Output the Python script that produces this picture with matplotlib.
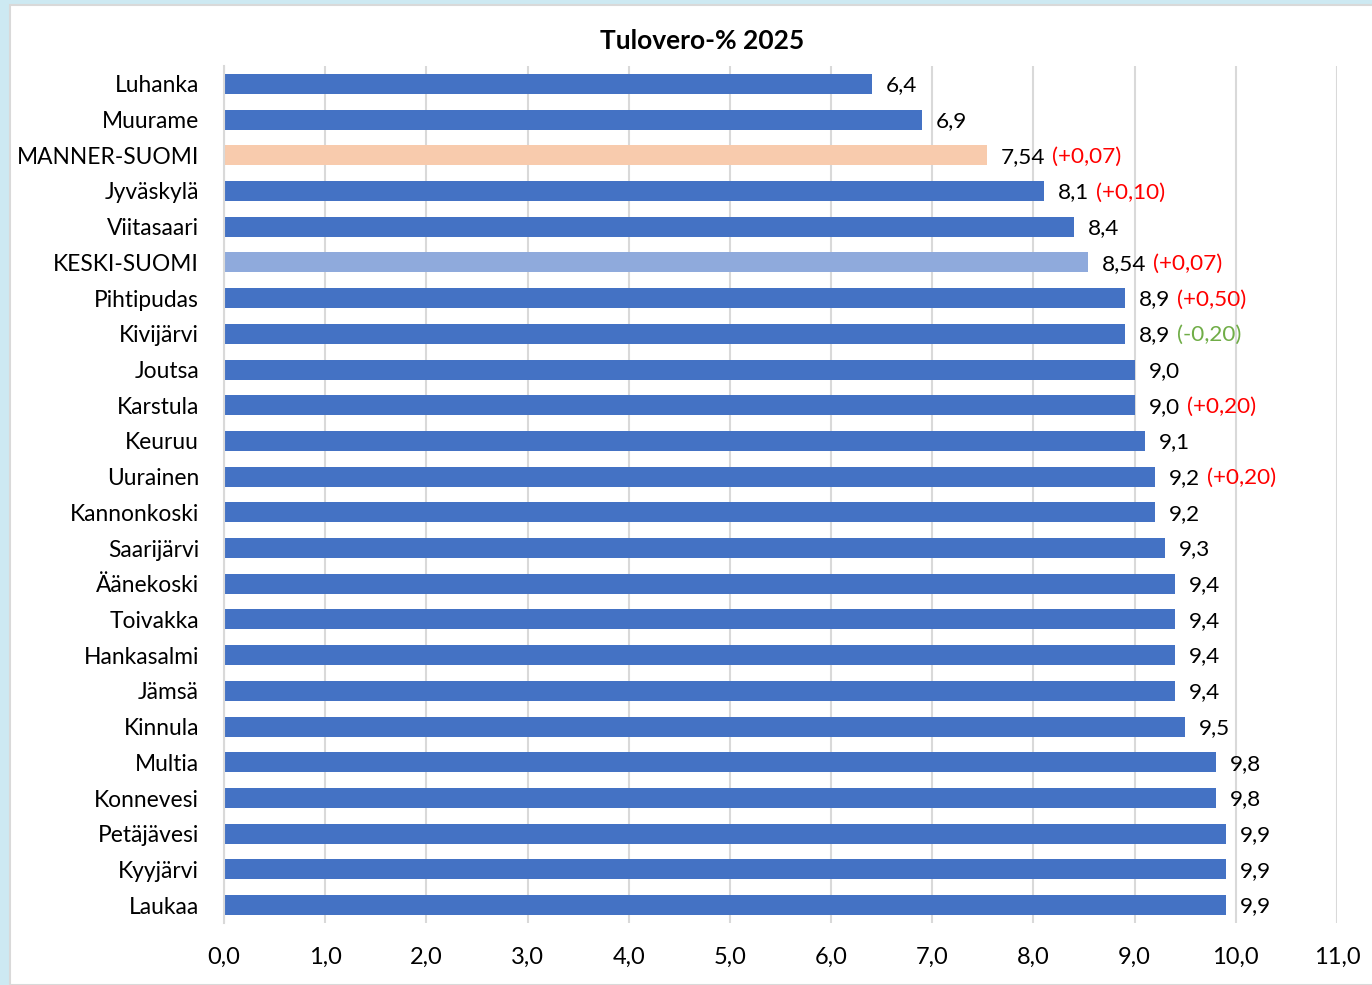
import matplotlib.pyplot as plt
from matplotlib.patches import Rectangle

plt.rcParams['font.family'] = ['Lato', 'DejaVu Sans']

# data
municipalities = ["Luhanka", "Muurame", "MANNER-SUOMI", "Jyväskylä", "Viitasaari",
                  "KESKI-SUOMI", "Pihtipudas", "Kivijärvi", "Joutsa", "Karstula",
                  "Keuruu", "Uurainen", "Kannonkoski", "Saarijärvi", "Äänekoski",
                  "Toivakka", "Hankasalmi", "Jämsä", "Kinnula", "Multia",
                  "Konnevesi", "Petäjävesi", "Kyyjärvi", "Laukaa"]
tax_rates = [6.4, 6.9, 7.54, 8.1, 8.4, 8.54, 8.9, 8.9, 9.0, 9.0, 9.1, 9.2, 9.2,
             9.3, 9.4, 9.4, 9.4, 9.4, 9.5, 9.8, 9.8, 9.9, 9.9, 9.9]
changes = {"MANNER-SUOMI": 0.07, "Jyväskylä": 0.10, "KESKI-SUOMI": 0.07,
           "Pihtipudas": 0.50, "Kivijärvi": -0.20, "Karstula": 0.20,
           "Uurainen": 0.20}
xticks = [0, 1, 2, 3, 4, 5, 6, 7, 8, 9, 10, 11]

BLUE = "#4472C4"
special_colors = {"MANNER-SUOMI": "#F8CBAD", "KESKI-SUOMI": "#8FAADC"}


def fi(v, dec):
    return f"{v:.{dec}f}".replace(".", ",")


fig = plt.figure(figsize=(13.72, 9.85), dpi=100, facecolor="#CDE9F2")
fig.patches.append(Rectangle((10 / 1372, 0), 1, 1 - 5 / 985, transform=fig.transFigure,
                             facecolor="white", edgecolor="#D9D9D9", linewidth=1.5,
                             zorder=-1))

ax = fig.add_axes([224 / 1372, 1 - 923 / 985, (1337 - 224) / 1372, (923 - 66) / 985])
ax.set_facecolor("none")
ax.set_zorder(2)

ypos = list(range(len(municipalities)))
colors = [special_colors.get(m, BLUE) for m in municipalities]
ax.barh(ypos, tax_rates, height=0.56, color=colors, zorder=3)

for y, name, v in zip(ypos, municipalities, tax_rates):
    dec = 2 if round(v, 1) != v else 1
    t = ax.annotate(fi(v, dec), xy=(v, y), xytext=(10, -1), textcoords="offset points",
                    va="center", ha="left", fontsize=16.2, color="black")
    if name in changes:
        c = changes[name]
        s = ("(+" if c > 0 else "(") + fi(c, 2) + ")"
        col = "#FF0000" if c > 0 else "#70AD47"
        ax.annotate(s, xy=(1, 0.5), xycoords=t, xytext=(5, 0), textcoords="offset points",
                    va="center", ha="left", fontsize=16.2, color=col)

ax.set_ylim(len(municipalities) - 0.5, -0.5)
ax.set_xlim(0, 11)
ax.set_yticks(ypos)
ax.set_yticklabels(municipalities, fontsize=16.4)
ax.set_xticks(xticks)
ax.set_xticklabels([fi(x, 1) for x in xticks], fontsize=17)
ax.tick_params(axis="both", length=0)
ax.tick_params(axis="y", pad=18)
ax.tick_params(axis="x", pad=17.5)
ax.grid(axis="x", color="#D9D9D9", linewidth=1.5, zorder=0)
for side in ["top", "right", "bottom"]:
    ax.spines[side].set_visible(False)
ax.spines["left"].set_color("#D9D9D9")
ax.spines["left"].set_linewidth(1.5)
ax.spines["left"].set_zorder(4)

fig.text(702 / 1372, 1 - 41 / 985, "Tulovero-% 2025", ha="center", va="center",
         fontsize=19, fontweight="bold")

fig.savefig("out.png", dpi=100, facecolor=fig.get_facecolor())
